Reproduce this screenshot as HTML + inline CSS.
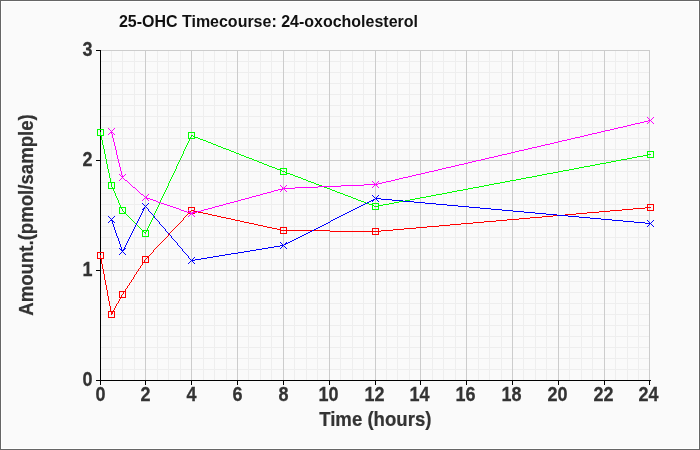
<!DOCTYPE html>
<html><head><meta charset="utf-8">
<title>25-OHC Timecourse: 24-oxocholesterol</title>
<style>
html,body{margin:0;padding:0;background:#fafafa;}
body{width:700px;height:450px;overflow:hidden;}
svg{display:block;will-change:transform;}
text{font-family:"Liberation Sans",sans-serif;font-weight:bold;fill:#333;}
</style></head><body>
<svg width="700" height="450" viewBox="0 0 700 450">
<rect x="0" y="0" width="700" height="450" fill="#666"/>
<rect x="1" y="1" width="698" height="448" fill="#fff"/>
<rect x="2" y="2" width="696" height="446" fill="#fafafa"/>
<g stroke="#eeeeee" stroke-width="1" shape-rendering="crispEdges">
<line x1="100.5" y1="50" x2="100.5" y2="380"/>
<line x1="111.5" y1="50" x2="111.5" y2="380"/>
<line x1="122.5" y1="50" x2="122.5" y2="380"/>
<line x1="134.5" y1="50" x2="134.5" y2="380"/>
<line x1="145.5" y1="50" x2="145.5" y2="380"/>
<line x1="157.5" y1="50" x2="157.5" y2="380"/>
<line x1="168.5" y1="50" x2="168.5" y2="380"/>
<line x1="180.5" y1="50" x2="180.5" y2="380"/>
<line x1="191.5" y1="50" x2="191.5" y2="380"/>
<line x1="203.5" y1="50" x2="203.5" y2="380"/>
<line x1="214.5" y1="50" x2="214.5" y2="380"/>
<line x1="226.5" y1="50" x2="226.5" y2="380"/>
<line x1="237.5" y1="50" x2="237.5" y2="380"/>
<line x1="248.5" y1="50" x2="248.5" y2="380"/>
<line x1="260.5" y1="50" x2="260.5" y2="380"/>
<line x1="271.5" y1="50" x2="271.5" y2="380"/>
<line x1="283.5" y1="50" x2="283.5" y2="380"/>
<line x1="294.5" y1="50" x2="294.5" y2="380"/>
<line x1="306.5" y1="50" x2="306.5" y2="380"/>
<line x1="317.5" y1="50" x2="317.5" y2="380"/>
<line x1="329.5" y1="50" x2="329.5" y2="380"/>
<line x1="340.5" y1="50" x2="340.5" y2="380"/>
<line x1="352.5" y1="50" x2="352.5" y2="380"/>
<line x1="363.5" y1="50" x2="363.5" y2="380"/>
<line x1="375.5" y1="50" x2="375.5" y2="380"/>
<line x1="386.5" y1="50" x2="386.5" y2="380"/>
<line x1="397.5" y1="50" x2="397.5" y2="380"/>
<line x1="409.5" y1="50" x2="409.5" y2="380"/>
<line x1="420.5" y1="50" x2="420.5" y2="380"/>
<line x1="432.5" y1="50" x2="432.5" y2="380"/>
<line x1="443.5" y1="50" x2="443.5" y2="380"/>
<line x1="455.5" y1="50" x2="455.5" y2="380"/>
<line x1="466.5" y1="50" x2="466.5" y2="380"/>
<line x1="478.5" y1="50" x2="478.5" y2="380"/>
<line x1="489.5" y1="50" x2="489.5" y2="380"/>
<line x1="501.5" y1="50" x2="501.5" y2="380"/>
<line x1="512.5" y1="50" x2="512.5" y2="380"/>
<line x1="523.5" y1="50" x2="523.5" y2="380"/>
<line x1="535.5" y1="50" x2="535.5" y2="380"/>
<line x1="546.5" y1="50" x2="546.5" y2="380"/>
<line x1="558.5" y1="50" x2="558.5" y2="380"/>
<line x1="569.5" y1="50" x2="569.5" y2="380"/>
<line x1="581.5" y1="50" x2="581.5" y2="380"/>
<line x1="592.5" y1="50" x2="592.5" y2="380"/>
<line x1="604.5" y1="50" x2="604.5" y2="380"/>
<line x1="615.5" y1="50" x2="615.5" y2="380"/>
<line x1="627.5" y1="50" x2="627.5" y2="380"/>
<line x1="638.5" y1="50" x2="638.5" y2="380"/>
<line x1="649.5" y1="50" x2="649.5" y2="380"/>
<line x1="100" y1="380.5" x2="650" y2="380.5"/>
<line x1="100" y1="369.5" x2="650" y2="369.5"/>
<line x1="100" y1="358.5" x2="650" y2="358.5"/>
<line x1="100" y1="347.5" x2="650" y2="347.5"/>
<line x1="100" y1="336.5" x2="650" y2="336.5"/>
<line x1="100" y1="325.5" x2="650" y2="325.5"/>
<line x1="100" y1="314.5" x2="650" y2="314.5"/>
<line x1="100" y1="303.5" x2="650" y2="303.5"/>
<line x1="100" y1="292.5" x2="650" y2="292.5"/>
<line x1="100" y1="281.5" x2="650" y2="281.5"/>
<line x1="100" y1="270.5" x2="650" y2="270.5"/>
<line x1="100" y1="259.5" x2="650" y2="259.5"/>
<line x1="100" y1="248.5" x2="650" y2="248.5"/>
<line x1="100" y1="237.5" x2="650" y2="237.5"/>
<line x1="100" y1="226.5" x2="650" y2="226.5"/>
<line x1="100" y1="215.5" x2="650" y2="215.5"/>
<line x1="100" y1="204.5" x2="650" y2="204.5"/>
<line x1="100" y1="193.5" x2="650" y2="193.5"/>
<line x1="100" y1="182.5" x2="650" y2="182.5"/>
<line x1="100" y1="171.5" x2="650" y2="171.5"/>
<line x1="100" y1="160.5" x2="650" y2="160.5"/>
<line x1="100" y1="149.5" x2="650" y2="149.5"/>
<line x1="100" y1="138.5" x2="650" y2="138.5"/>
<line x1="100" y1="127.5" x2="650" y2="127.5"/>
<line x1="100" y1="116.5" x2="650" y2="116.5"/>
<line x1="100" y1="105.5" x2="650" y2="105.5"/>
<line x1="100" y1="94.5" x2="650" y2="94.5"/>
<line x1="100" y1="83.5" x2="650" y2="83.5"/>
<line x1="100" y1="72.5" x2="650" y2="72.5"/>
<line x1="100" y1="61.5" x2="650" y2="61.5"/>
<line x1="100" y1="50.5" x2="650" y2="50.5"/>
</g>
<g stroke="#cccccc" stroke-width="1" shape-rendering="crispEdges">
<line x1="100.5" y1="50" x2="100.5" y2="380"/>
<line x1="145.5" y1="50" x2="145.5" y2="380"/>
<line x1="191.5" y1="50" x2="191.5" y2="380"/>
<line x1="237.5" y1="50" x2="237.5" y2="380"/>
<line x1="283.5" y1="50" x2="283.5" y2="380"/>
<line x1="329.5" y1="50" x2="329.5" y2="380"/>
<line x1="375.5" y1="50" x2="375.5" y2="380"/>
<line x1="420.5" y1="50" x2="420.5" y2="380"/>
<line x1="466.5" y1="50" x2="466.5" y2="380"/>
<line x1="512.5" y1="50" x2="512.5" y2="380"/>
<line x1="558.5" y1="50" x2="558.5" y2="380"/>
<line x1="604.5" y1="50" x2="604.5" y2="380"/>
<line x1="649.5" y1="50" x2="649.5" y2="380"/>
<line x1="100" y1="380.5" x2="650" y2="380.5"/>
<line x1="100" y1="270.5" x2="650" y2="270.5"/>
<line x1="100" y1="160.5" x2="650" y2="160.5"/>
<line x1="100" y1="50.5" x2="650" y2="50.5"/>
</g>
<g stroke="#000" stroke-width="1" shape-rendering="crispEdges">
<line x1="100.5" y1="50" x2="100.5" y2="381"/>
<line x1="100" y1="380.5" x2="651" y2="380.5"/>
<line x1="100.5" y1="380" x2="100.5" y2="385"/>
<line x1="145.5" y1="380" x2="145.5" y2="385"/>
<line x1="191.5" y1="380" x2="191.5" y2="385"/>
<line x1="237.5" y1="380" x2="237.5" y2="385"/>
<line x1="283.5" y1="380" x2="283.5" y2="385"/>
<line x1="329.5" y1="380" x2="329.5" y2="385"/>
<line x1="375.5" y1="380" x2="375.5" y2="385"/>
<line x1="420.5" y1="380" x2="420.5" y2="385"/>
<line x1="466.5" y1="380" x2="466.5" y2="385"/>
<line x1="512.5" y1="380" x2="512.5" y2="385"/>
<line x1="558.5" y1="380" x2="558.5" y2="385"/>
<line x1="604.5" y1="380" x2="604.5" y2="385"/>
<line x1="649.5" y1="380" x2="649.5" y2="385"/>
<line x1="96" y1="380.5" x2="100" y2="380.5"/>
<line x1="96" y1="270.5" x2="100" y2="270.5"/>
<line x1="96" y1="160.5" x2="100" y2="160.5"/>
<line x1="96" y1="50.5" x2="100" y2="50.5"/>
</g>
<g fill="#ff0000" stroke="none" shape-rendering="crispEdges">
<path d="M100 255h1v3h-1zM101 258h1v6h-1zM102 264h1v5h-1zM103 269h1v5h-1zM104 274h1v6h-1zM105 280h1v5h-1zM106 285h1v5h-1zM107 290h1v6h-1zM108 296h1v5h-1zM109 301h1v5h-1zM110 306h1v6h-1zM111 312h1v3h-1zM111 314h1v1h-1zM112 312h1v2h-1zM113 310h1v2h-1zM114 308h1v2h-1zM115 306h1v2h-1zM116 304h1v2h-1zM117 303h1v1h-1zM118 301h1v2h-1zM119 299h1v2h-1zM120 297h1v2h-1zM121 295h1v2h-1zM122 294h1v1h-1zM122 294h1v1h-1zM123 292h1v2h-1zM124 291h1v1h-1zM125 289h1v2h-1zM126 288h1v1h-1zM127 286h1v2h-1zM128 285h1v1h-1zM129 283h1v2h-1zM130 282h1v1h-1zM131 280h1v2h-1zM132 279h1v1h-1zM133 277h1v2h-1zM134 275h1v2h-1zM135 274h1v1h-1zM136 272h1v2h-1zM137 271h1v1h-1zM138 269h1v2h-1zM139 268h1v1h-1zM140 266h1v2h-1zM141 265h1v1h-1zM142 263h1v2h-1zM143 262h1v1h-1zM144 260h1v2h-1zM145 259h1v1h-1zM145 259h1v1h-1zM146 258h1v1h-1zM147 257h1v1h-1zM148 256h1v1h-1zM149 255h1v1h-1zM150 254h1v1h-1zM151 253h1v1h-1zM152 252h1v1h-1zM153 250h1v2h-1zM154 249h1v1h-1zM155 248h1v1h-1zM156 247h1v1h-1zM157 246h1v1h-1zM158 245h1v1h-1zM159 244h1v1h-1zM160 243h1v1h-1zM161 242h1v1h-1zM162 241h1v1h-1zM163 240h1v1h-1zM164 239h1v1h-1zM165 238h1v1h-1zM166 237h1v1h-1zM167 236h1v1h-1zM168 234h1v2h-1zM169 233h1v1h-1zM170 232h1v1h-1zM171 231h1v1h-1zM172 230h1v1h-1zM173 229h1v1h-1zM174 228h1v1h-1zM175 227h1v1h-1zM176 226h1v1h-1zM177 225h1v1h-1zM178 224h1v1h-1zM179 223h1v1h-1zM180 222h1v1h-1zM181 221h1v1h-1zM182 220h1v1h-1zM183 218h1v2h-1zM184 217h1v1h-1zM185 216h1v1h-1zM186 215h1v1h-1zM187 214h1v1h-1zM188 213h1v1h-1zM189 212h1v1h-1zM190 211h1v1h-1zM191 210h1v1h-1zM191 210h3v1h-3zM194 211h4v1h-4zM198 212h5v1h-5zM203 213h5v1h-5zM208 214h4v1h-4zM212 215h5v1h-5zM217 216h4v1h-4zM221 217h5v1h-5zM226 218h5v1h-5zM231 219h4v1h-4zM235 220h5v1h-5zM240 221h4v1h-4zM244 222h5v1h-5zM249 223h5v1h-5zM254 224h4v1h-4zM258 225h5v1h-5zM263 226h4v1h-4zM267 227h5v1h-5zM272 228h5v1h-5zM277 229h4v1h-4zM281 230h3v1h-3zM283 230h47v1h-47zM330 231h46v1h-46zM375 231h6v1h-6zM381 230h12v1h-12zM393 229h11v1h-11zM404 228h12v1h-12zM416 227h11v1h-11zM427 226h12v1h-12zM439 225h11v1h-11zM450 224h11v1h-11zM461 223h12v1h-12zM473 222h11v1h-11zM484 221h12v1h-12zM496 220h11v1h-11zM507 219h12v1h-12zM519 218h11v1h-11zM530 217h12v1h-12zM542 216h11v1h-11zM553 215h12v1h-12zM565 214h11v1h-11zM576 213h11v1h-11zM587 212h12v1h-12zM599 211h11v1h-11zM610 210h12v1h-12zM622 209h11v1h-11zM633 208h12v1h-12zM645 207h6v1h-6z"/>
<path d="M97 252h7v1h-7zM97 258h7v1h-7zM97 253h1v5h-1zM103 253h1v5h-1zM108 311h7v1h-7zM108 317h7v1h-7zM108 312h1v5h-1zM114 312h1v5h-1zM119 291h7v1h-7zM119 297h7v1h-7zM119 292h1v5h-1zM125 292h1v5h-1zM142 256h7v1h-7zM142 262h7v1h-7zM142 257h1v5h-1zM148 257h1v5h-1zM188 207h7v1h-7zM188 213h7v1h-7zM188 208h1v5h-1zM194 208h1v5h-1zM280 227h7v1h-7zM280 233h7v1h-7zM280 228h1v5h-1zM286 228h1v5h-1zM372 228h7v1h-7zM372 234h7v1h-7zM372 229h1v5h-1zM378 229h1v5h-1zM647 204h7v1h-7zM647 210h7v1h-7zM647 205h1v5h-1zM653 205h1v5h-1z"/>
</g>
<g fill="#00ff00" stroke="none" shape-rendering="crispEdges">
<path d="M100 132h1v3h-1zM101 135h1v5h-1zM102 140h1v5h-1zM103 145h1v4h-1zM104 149h1v5h-1zM105 154h1v5h-1zM106 159h1v5h-1zM107 164h1v5h-1zM108 169h1v4h-1zM109 173h1v5h-1zM110 178h1v5h-1zM111 183h1v3h-1zM111 185h1v2h-1zM112 187h1v2h-1zM113 189h1v2h-1zM114 191h1v2h-1zM115 193h1v3h-1zM116 196h1v2h-1zM117 198h1v2h-1zM118 200h1v3h-1zM119 203h1v2h-1zM120 205h1v2h-1zM121 207h1v2h-1zM122 209h1v2h-1zM122 210h1v1h-1zM123 211h1v1h-1zM124 212h1v1h-1zM125 213h1v1h-1zM126 214h1v1h-1zM127 215h1v1h-1zM128 216h1v1h-1zM129 217h1v1h-1zM130 218h1v1h-1zM131 219h1v1h-1zM132 220h1v1h-1zM133 221h1v1h-1zM134 222h1v1h-1zM135 223h1v1h-1zM136 224h1v1h-1zM137 225h1v1h-1zM138 226h1v1h-1zM139 227h1v1h-1zM140 228h1v1h-1zM141 229h1v1h-1zM142 230h1v1h-1zM143 231h1v1h-1zM144 232h1v1h-1zM145 233h1v1h-1zM145 232h1v2h-1zM146 230h1v2h-1zM147 228h1v2h-1zM148 226h1v2h-1zM149 224h1v2h-1zM150 222h1v2h-1zM151 220h1v2h-1zM152 218h1v2h-1zM153 215h1v3h-1zM154 213h1v2h-1zM155 211h1v2h-1zM156 209h1v2h-1zM157 207h1v2h-1zM158 205h1v2h-1zM159 203h1v2h-1zM160 200h1v3h-1zM161 198h1v2h-1zM162 196h1v2h-1zM163 194h1v2h-1zM164 192h1v2h-1zM165 190h1v2h-1zM166 188h1v2h-1zM167 186h1v2h-1zM168 183h1v3h-1zM169 181h1v2h-1zM170 179h1v2h-1zM171 177h1v2h-1zM172 175h1v2h-1zM173 173h1v2h-1zM174 171h1v2h-1zM175 169h1v2h-1zM176 166h1v3h-1zM177 164h1v2h-1zM178 162h1v2h-1zM179 160h1v2h-1zM180 158h1v2h-1zM181 156h1v2h-1zM182 154h1v2h-1zM183 151h1v3h-1zM184 149h1v2h-1zM185 147h1v2h-1zM186 145h1v2h-1zM187 143h1v2h-1zM188 141h1v2h-1zM189 139h1v2h-1zM190 137h1v2h-1zM191 135h1v2h-1zM191 135h2v1h-2zM193 136h2v1h-2zM195 137h3v1h-3zM198 138h2v1h-2zM200 139h3v1h-3zM203 140h3v1h-3zM206 141h2v1h-2zM208 142h3v1h-3zM211 143h2v1h-2zM213 144h3v1h-3zM216 145h2v1h-2zM218 146h3v1h-3zM221 147h2v1h-2zM223 148h3v1h-3zM226 149h3v1h-3zM229 150h2v1h-2zM231 151h3v1h-3zM234 152h2v1h-2zM236 153h3v1h-3zM239 154h2v1h-2zM241 155h3v1h-3zM244 156h2v1h-2zM246 157h3v1h-3zM249 158h3v1h-3zM252 159h2v1h-2zM254 160h3v1h-3zM257 161h2v1h-2zM259 162h3v1h-3zM262 163h2v1h-2zM264 164h3v1h-3zM267 165h2v1h-2zM269 166h3v1h-3zM272 167h3v1h-3zM275 168h2v1h-2zM277 169h3v1h-3zM280 170h2v1h-2zM282 171h2v1h-2zM283 171h2v1h-2zM285 172h2v1h-2zM287 173h3v1h-3zM290 174h3v1h-3zM293 175h2v1h-2zM295 176h3v1h-3zM298 177h3v1h-3zM301 178h2v1h-2zM303 179h3v1h-3zM306 180h2v1h-2zM308 181h3v1h-3zM311 182h3v1h-3zM314 183h2v1h-2zM316 184h3v1h-3zM319 185h3v1h-3zM322 186h2v1h-2zM324 187h3v1h-3zM327 188h3v1h-3zM330 189h2v1h-2zM332 190h3v1h-3zM335 191h2v1h-2zM337 192h3v1h-3zM340 193h3v1h-3zM343 194h2v1h-2zM345 195h3v1h-3zM348 196h3v1h-3zM351 197h2v1h-2zM353 198h3v1h-3zM356 199h2v1h-2zM358 200h3v1h-3zM361 201h3v1h-3zM364 202h2v1h-2zM366 203h3v1h-3zM369 204h3v1h-3zM372 205h2v1h-2zM374 206h2v1h-2zM375 206h3v1h-3zM378 205h5v1h-5zM383 204h6v1h-6zM389 203h5v1h-5zM394 202h5v1h-5zM399 201h6v1h-6zM405 200h5v1h-5zM410 199h5v1h-5zM415 198h5v1h-5zM420 197h6v1h-6zM426 196h5v1h-5zM431 195h5v1h-5zM436 194h6v1h-6zM442 193h5v1h-5zM447 192h5v1h-5zM452 191h5v1h-5zM457 190h6v1h-6zM463 189h5v1h-5zM468 188h5v1h-5zM473 187h6v1h-6zM479 186h5v1h-5zM484 185h5v1h-5zM489 184h5v1h-5zM494 183h6v1h-6zM500 182h5v1h-5zM505 181h5v1h-5zM510 180h6v1h-6zM516 179h5v1h-5zM521 178h5v1h-5zM526 177h6v1h-6zM532 176h5v1h-5zM537 175h5v1h-5zM542 174h5v1h-5zM547 173h6v1h-6zM553 172h5v1h-5zM558 171h5v1h-5zM563 170h6v1h-6zM569 169h5v1h-5zM574 168h5v1h-5zM579 167h5v1h-5zM584 166h6v1h-6zM590 165h5v1h-5zM595 164h5v1h-5zM600 163h6v1h-6zM606 162h5v1h-5zM611 161h5v1h-5zM616 160h5v1h-5zM621 159h6v1h-6zM627 158h5v1h-5zM632 157h5v1h-5zM637 156h6v1h-6zM643 155h5v1h-5zM648 154h3v1h-3z"/>
<path d="M97 129h7v1h-7zM97 135h7v1h-7zM97 130h1v5h-1zM103 130h1v5h-1zM108 182h7v1h-7zM108 188h7v1h-7zM108 183h1v5h-1zM114 183h1v5h-1zM119 207h7v1h-7zM119 213h7v1h-7zM119 208h1v5h-1zM125 208h1v5h-1zM142 230h7v1h-7zM142 236h7v1h-7zM142 231h1v5h-1zM148 231h1v5h-1zM188 132h7v1h-7zM188 138h7v1h-7zM188 133h1v5h-1zM194 133h1v5h-1zM280 168h7v1h-7zM280 174h7v1h-7zM280 169h1v5h-1zM286 169h1v5h-1zM372 203h7v1h-7zM372 209h7v1h-7zM372 204h1v5h-1zM378 204h1v5h-1zM647 151h7v1h-7zM647 157h7v1h-7zM647 152h1v5h-1zM653 152h1v5h-1z"/>
</g>
<g fill="#0000ff" stroke="none" shape-rendering="crispEdges">
<path d="M111 219h1v2h-1zM112 221h1v3h-1zM113 224h1v3h-1zM114 227h1v3h-1zM115 230h1v3h-1zM116 233h1v3h-1zM117 236h1v2h-1zM118 238h1v3h-1zM119 241h1v3h-1zM120 244h1v3h-1zM121 247h1v3h-1zM122 250h1v2h-1zM122 251h1v1h-1zM123 249h1v2h-1zM124 247h1v2h-1zM125 245h1v2h-1zM126 243h1v2h-1zM127 241h1v2h-1zM128 239h1v2h-1zM129 237h1v2h-1zM130 235h1v2h-1zM131 233h1v2h-1zM132 231h1v2h-1zM133 229h1v2h-1zM134 227h1v2h-1zM135 225h1v2h-1zM136 223h1v2h-1zM137 221h1v2h-1zM138 219h1v2h-1zM139 217h1v2h-1zM140 215h1v2h-1zM141 213h1v2h-1zM142 211h1v2h-1zM143 209h1v2h-1zM144 207h1v2h-1zM145 206h1v1h-1zM145 206h1v1h-1zM146 207h1v1h-1zM147 208h1v1h-1zM148 209h1v2h-1zM149 211h1v1h-1zM150 212h1v1h-1zM151 213h1v1h-1zM152 214h1v1h-1zM153 215h1v1h-1zM154 216h1v2h-1zM155 218h1v1h-1zM156 219h1v1h-1zM157 220h1v1h-1zM158 221h1v1h-1zM159 222h1v2h-1zM160 224h1v1h-1zM161 225h1v1h-1zM162 226h1v1h-1zM163 227h1v1h-1zM164 228h1v1h-1zM165 229h1v2h-1zM166 231h1v1h-1zM167 232h1v1h-1zM168 233h1v1h-1zM169 234h1v1h-1zM170 235h1v1h-1zM171 236h1v2h-1zM172 238h1v1h-1zM173 239h1v1h-1zM174 240h1v1h-1zM175 241h1v1h-1zM176 242h1v1h-1zM177 243h1v2h-1zM178 245h1v1h-1zM179 246h1v1h-1zM180 247h1v1h-1zM181 248h1v1h-1zM182 249h1v2h-1zM183 251h1v1h-1zM184 252h1v1h-1zM185 253h1v1h-1zM186 254h1v1h-1zM187 255h1v1h-1zM188 256h1v2h-1zM189 258h1v1h-1zM190 259h1v1h-1zM191 260h1v1h-1zM191 260h4v1h-4zM195 259h6v1h-6zM201 258h6v1h-6zM207 257h6v1h-6zM213 256h6v1h-6zM219 255h6v1h-6zM225 254h6v1h-6zM231 253h7v1h-7zM238 252h6v1h-6zM244 251h6v1h-6zM250 250h6v1h-6zM256 249h6v1h-6zM262 248h6v1h-6zM268 247h6v1h-6zM274 246h6v1h-6zM280 245h4v1h-4zM283 245h1v1h-1zM284 244h2v1h-2zM286 243h2v1h-2zM288 242h2v1h-2zM290 241h2v1h-2zM292 240h2v1h-2zM294 239h2v1h-2zM296 238h2v1h-2zM298 237h2v1h-2zM300 236h2v1h-2zM302 235h2v1h-2zM304 234h2v1h-2zM306 233h2v1h-2zM308 232h2v1h-2zM310 231h2v1h-2zM312 230h2v1h-2zM314 229h2v1h-2zM316 228h2v1h-2zM318 227h2v1h-2zM320 226h2v1h-2zM322 225h2v1h-2zM324 224h2v1h-2zM326 223h2v1h-2zM328 222h2v1h-2zM330 221h1v1h-1zM331 220h2v1h-2zM333 219h2v1h-2zM335 218h2v1h-2zM337 217h2v1h-2zM339 216h2v1h-2zM341 215h2v1h-2zM343 214h2v1h-2zM345 213h2v1h-2zM347 212h2v1h-2zM349 211h2v1h-2zM351 210h2v1h-2zM353 209h2v1h-2zM355 208h2v1h-2zM357 207h2v1h-2zM359 206h2v1h-2zM361 205h2v1h-2zM363 204h2v1h-2zM365 203h2v1h-2zM367 202h2v1h-2zM369 201h2v1h-2zM371 200h2v1h-2zM373 199h2v1h-2zM375 198h1v1h-1zM375 198h6v1h-6zM381 199h11v1h-11zM392 200h11v1h-11zM403 201h11v1h-11zM414 202h11v1h-11zM425 203h11v1h-11zM436 204h11v1h-11zM447 205h11v1h-11zM458 206h11v1h-11zM469 207h11v1h-11zM480 208h11v1h-11zM491 209h11v1h-11zM502 210h11v1h-11zM513 211h11v1h-11zM524 212h11v1h-11zM535 213h11v1h-11zM546 214h11v1h-11zM557 215h11v1h-11zM568 216h11v1h-11zM579 217h11v1h-11zM590 218h11v1h-11zM601 219h11v1h-11zM612 220h11v1h-11zM623 221h11v1h-11zM634 222h11v1h-11zM645 223h6v1h-6z"/>
<path d="M108 216h1v1h-1zM108 222h1v1h-1zM109 217h1v1h-1zM109 221h1v1h-1zM110 218h1v1h-1zM110 220h1v1h-1zM111 219h1v1h-1zM112 218h1v1h-1zM112 220h1v1h-1zM113 217h1v1h-1zM113 221h1v1h-1zM114 216h1v1h-1zM114 222h1v1h-1zM119 248h1v1h-1zM119 254h1v1h-1zM120 249h1v1h-1zM120 253h1v1h-1zM121 250h1v1h-1zM121 252h1v1h-1zM122 251h1v1h-1zM123 250h1v1h-1zM123 252h1v1h-1zM124 249h1v1h-1zM124 253h1v1h-1zM125 248h1v1h-1zM125 254h1v1h-1zM142 203h1v1h-1zM142 209h1v1h-1zM143 204h1v1h-1zM143 208h1v1h-1zM144 205h1v1h-1zM144 207h1v1h-1zM145 206h1v1h-1zM146 205h1v1h-1zM146 207h1v1h-1zM147 204h1v1h-1zM147 208h1v1h-1zM148 203h1v1h-1zM148 209h1v1h-1zM188 257h1v1h-1zM188 263h1v1h-1zM189 258h1v1h-1zM189 262h1v1h-1zM190 259h1v1h-1zM190 261h1v1h-1zM191 260h1v1h-1zM192 259h1v1h-1zM192 261h1v1h-1zM193 258h1v1h-1zM193 262h1v1h-1zM194 257h1v1h-1zM194 263h1v1h-1zM280 242h1v1h-1zM280 248h1v1h-1zM281 243h1v1h-1zM281 247h1v1h-1zM282 244h1v1h-1zM282 246h1v1h-1zM283 245h1v1h-1zM284 244h1v1h-1zM284 246h1v1h-1zM285 243h1v1h-1zM285 247h1v1h-1zM286 242h1v1h-1zM286 248h1v1h-1zM372 195h1v1h-1zM372 201h1v1h-1zM373 196h1v1h-1zM373 200h1v1h-1zM374 197h1v1h-1zM374 199h1v1h-1zM375 198h1v1h-1zM376 197h1v1h-1zM376 199h1v1h-1zM377 196h1v1h-1zM377 200h1v1h-1zM378 195h1v1h-1zM378 201h1v1h-1zM647 220h1v1h-1zM647 226h1v1h-1zM648 221h1v1h-1zM648 225h1v1h-1zM649 222h1v1h-1zM649 224h1v1h-1zM650 223h1v1h-1zM651 222h1v1h-1zM651 224h1v1h-1zM652 221h1v1h-1zM652 225h1v1h-1zM653 220h1v1h-1zM653 226h1v1h-1z"/>
</g>
<g fill="#ff00ff" stroke="none" shape-rendering="crispEdges">
<path d="M111 131h1v3h-1zM112 134h1v4h-1zM113 138h1v4h-1zM114 142h1v4h-1zM115 146h1v4h-1zM116 150h1v5h-1zM117 155h1v4h-1zM118 159h1v4h-1zM119 163h1v4h-1zM120 167h1v4h-1zM121 171h1v4h-1zM122 175h1v3h-1zM122 177h1v1h-1zM123 178h1v1h-1zM124 179h1v1h-1zM125 180h2v1h-2zM127 181h1v1h-1zM128 182h1v1h-1zM129 183h1v1h-1zM130 184h1v1h-1zM131 185h1v1h-1zM132 186h1v1h-1zM133 187h2v1h-2zM135 188h1v1h-1zM136 189h1v1h-1zM137 190h1v1h-1zM138 191h1v1h-1zM139 192h1v1h-1zM140 193h1v1h-1zM141 194h2v1h-2zM143 195h1v1h-1zM144 196h1v1h-1zM145 197h1v1h-1zM145 197h2v1h-2zM147 198h3v1h-3zM150 199h3v1h-3zM153 200h3v1h-3zM156 201h2v1h-2zM158 202h3v1h-3zM161 203h3v1h-3zM164 204h3v1h-3zM167 205h3v1h-3zM170 206h3v1h-3zM173 207h3v1h-3zM176 208h3v1h-3zM179 209h2v1h-2zM181 210h3v1h-3zM184 211h3v1h-3zM187 212h3v1h-3zM190 213h2v1h-2zM191 213h2v1h-2zM193 212h4v1h-4zM197 211h4v1h-4zM201 210h3v1h-3zM204 209h4v1h-4zM208 208h4v1h-4zM212 207h3v1h-3zM215 206h4v1h-4zM219 205h4v1h-4zM223 204h3v1h-3zM226 203h4v1h-4zM230 202h4v1h-4zM234 201h4v1h-4zM238 200h3v1h-3zM241 199h4v1h-4zM245 198h4v1h-4zM249 197h3v1h-3zM252 196h4v1h-4zM256 195h4v1h-4zM260 194h3v1h-3zM263 193h4v1h-4zM267 192h4v1h-4zM271 191h3v1h-3zM274 190h4v1h-4zM278 189h4v1h-4zM282 188h2v1h-2zM283 188h12v1h-12zM295 187h23v1h-23zM318 186h23v1h-23zM341 185h23v1h-23zM364 184h12v1h-12zM375 184h3v1h-3zM378 183h4v1h-4zM382 182h4v1h-4zM386 181h5v1h-5zM391 180h4v1h-4zM395 179h4v1h-4zM399 178h4v1h-4zM403 177h5v1h-5zM408 176h4v1h-4zM412 175h4v1h-4zM416 174h5v1h-5zM421 173h4v1h-4zM425 172h4v1h-4zM429 171h5v1h-5zM434 170h4v1h-4zM438 169h4v1h-4zM442 168h4v1h-4zM446 167h5v1h-5zM451 166h4v1h-4zM455 165h4v1h-4zM459 164h5v1h-5zM464 163h4v1h-4zM468 162h4v1h-4zM472 161h4v1h-4zM476 160h5v1h-5zM481 159h4v1h-4zM485 158h4v1h-4zM489 157h5v1h-5zM494 156h4v1h-4zM498 155h4v1h-4zM502 154h5v1h-5zM507 153h4v1h-4zM511 152h4v1h-4zM515 151h4v1h-4zM519 150h5v1h-5zM524 149h4v1h-4zM528 148h4v1h-4zM532 147h5v1h-5zM537 146h4v1h-4zM541 145h4v1h-4zM545 144h5v1h-5zM550 143h4v1h-4zM554 142h4v1h-4zM558 141h4v1h-4zM562 140h5v1h-5zM567 139h4v1h-4zM571 138h4v1h-4zM575 137h5v1h-5zM580 136h4v1h-4zM584 135h4v1h-4zM588 134h4v1h-4zM592 133h5v1h-5zM597 132h4v1h-4zM601 131h4v1h-4zM605 130h5v1h-5zM610 129h4v1h-4zM614 128h4v1h-4zM618 127h5v1h-5zM623 126h4v1h-4zM627 125h4v1h-4zM631 124h4v1h-4zM635 123h5v1h-5zM640 122h4v1h-4zM644 121h4v1h-4zM648 120h3v1h-3z"/>
<path d="M108 128h1v1h-1zM108 134h1v1h-1zM109 129h1v1h-1zM109 133h1v1h-1zM110 130h1v1h-1zM110 132h1v1h-1zM111 131h1v1h-1zM112 130h1v1h-1zM112 132h1v1h-1zM113 129h1v1h-1zM113 133h1v1h-1zM114 128h1v1h-1zM114 134h1v1h-1zM119 174h1v1h-1zM119 180h1v1h-1zM120 175h1v1h-1zM120 179h1v1h-1zM121 176h1v1h-1zM121 178h1v1h-1zM122 177h1v1h-1zM123 176h1v1h-1zM123 178h1v1h-1zM124 175h1v1h-1zM124 179h1v1h-1zM125 174h1v1h-1zM125 180h1v1h-1zM142 194h1v1h-1zM142 200h1v1h-1zM143 195h1v1h-1zM143 199h1v1h-1zM144 196h1v1h-1zM144 198h1v1h-1zM145 197h1v1h-1zM146 196h1v1h-1zM146 198h1v1h-1zM147 195h1v1h-1zM147 199h1v1h-1zM148 194h1v1h-1zM148 200h1v1h-1zM188 210h1v1h-1zM188 216h1v1h-1zM189 211h1v1h-1zM189 215h1v1h-1zM190 212h1v1h-1zM190 214h1v1h-1zM191 213h1v1h-1zM192 212h1v1h-1zM192 214h1v1h-1zM193 211h1v1h-1zM193 215h1v1h-1zM194 210h1v1h-1zM194 216h1v1h-1zM280 185h1v1h-1zM280 191h1v1h-1zM281 186h1v1h-1zM281 190h1v1h-1zM282 187h1v1h-1zM282 189h1v1h-1zM283 188h1v1h-1zM284 187h1v1h-1zM284 189h1v1h-1zM285 186h1v1h-1zM285 190h1v1h-1zM286 185h1v1h-1zM286 191h1v1h-1zM372 181h1v1h-1zM372 187h1v1h-1zM373 182h1v1h-1zM373 186h1v1h-1zM374 183h1v1h-1zM374 185h1v1h-1zM375 184h1v1h-1zM376 183h1v1h-1zM376 185h1v1h-1zM377 182h1v1h-1zM377 186h1v1h-1zM378 181h1v1h-1zM378 187h1v1h-1zM647 117h1v1h-1zM647 123h1v1h-1zM648 118h1v1h-1zM648 122h1v1h-1zM649 119h1v1h-1zM649 121h1v1h-1zM650 120h1v1h-1zM651 119h1v1h-1zM651 121h1v1h-1zM652 118h1v1h-1zM652 122h1v1h-1zM653 117h1v1h-1zM653 123h1v1h-1z"/>
</g>
<g font-size="18" style="stroke:#333;stroke-width:0.25px">
<text transform="translate(100.5,401) scale(1,1.1)" text-anchor="middle">0</text>
<text transform="translate(145.5,401) scale(1,1.1)" text-anchor="middle">2</text>
<text transform="translate(191.5,401) scale(1,1.1)" text-anchor="middle">4</text>
<text transform="translate(237.5,401) scale(1,1.1)" text-anchor="middle">6</text>
<text transform="translate(283.5,401) scale(1,1.1)" text-anchor="middle">8</text>
<text transform="translate(328.6,401) scale(1,1.1)" text-anchor="middle">10</text>
<text transform="translate(374.6,401) scale(1,1.1)" text-anchor="middle">12</text>
<text transform="translate(419.6,401) scale(1,1.1)" text-anchor="middle">14</text>
<text transform="translate(465.6,401) scale(1,1.1)" text-anchor="middle">16</text>
<text transform="translate(511.6,401) scale(1,1.1)" text-anchor="middle">18</text>
<text transform="translate(557.6,401) scale(1,1.1)" text-anchor="middle">20</text>
<text transform="translate(603.6,401) scale(1,1.1)" text-anchor="middle">22</text>
<text transform="translate(648.6,401) scale(1,1.1)" text-anchor="middle">24</text>
<text transform="translate(92.5,386.0) scale(1,1.1)" text-anchor="end">0</text>
<text transform="translate(92.5,276.0) scale(1,1.1)" text-anchor="end">1</text>
<text transform="translate(92.5,166.0) scale(1,1.1)" text-anchor="end">2</text>
<text transform="translate(92.5,56.0) scale(1,1.1)" text-anchor="end">3</text>
</g>
<text transform="translate(118.9,26.5) scale(1,1.035)" font-size="16" style="fill:#111">25-OHC Timecourse: 24-oxocholesterol</text>
<text transform="translate(375.3,425.7) scale(1,1.066)" font-size="18.6" text-anchor="middle" style="stroke:#333;stroke-width:0.2px">Time (hours)</text>
<text transform="translate(32.7,215) rotate(-90) scale(1,1.066)" font-size="18.6" text-anchor="middle" style="stroke:#333;stroke-width:0.2px">Amount.(pmol/sample)</text>
</svg>
</body></html>
